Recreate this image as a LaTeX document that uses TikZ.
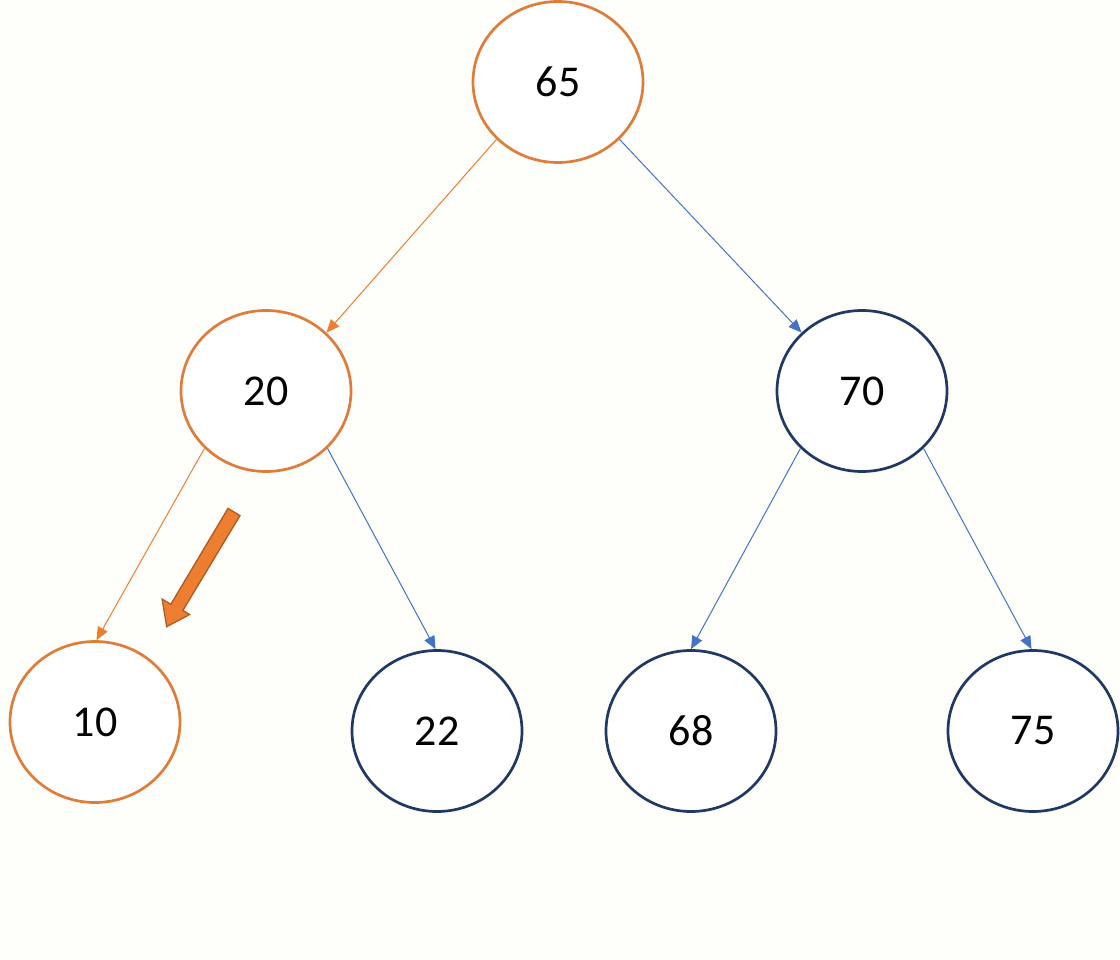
\documentclass[tikz,border=0pt]{standalone}
\usepackage{fontspec}
\setmainfont{Carlito}
\usetikzlibrary{shapes.geometric,arrows.meta}
\definecolor{bgc}{RGB}{254,254,251}
\definecolor{orn}{RGB}{224,124,58}
\definecolor{ornedge}{RGB}{237,125,49}
\definecolor{navy}{RGB}{32,56,100}
\definecolor{blueedge}{RGB}{68,114,196}
\definecolor{arrowborder}{RGB}{174,90,33}
\tikzset{
  treenode/.style={ellipse, minimum width=170pt, minimum height=161pt, inner sep=0pt, line width=2.7pt, fill=white, font=\fontsize{44}{50}\selectfont},
  orangenode/.style={treenode, draw=orn},
  bluenode/.style={treenode, draw=navy},
  orangeedge/.style={draw=ornedge, line width=1pt, -{Triangle[length=13pt,width=11pt]}},
  blueedge/.style={draw=blueedge, line width=1pt, -{Triangle[length=13pt,width=11pt]}},
  bigarrow/.style={fill=ornedge, draw=arrowborder, line width=1.3pt, line join=miter}
}
\begin{document}
\begin{tikzpicture}[x=1pt,y=-1pt]
\fill[bgc] (0,0) rectangle (1120,960);
\useasboundingbox (0,0) rectangle (1120,960);
\node[orangenode] (n65) at (558,82) {65};
\node[orangenode] (n20) at (266,391) {20};
\node[bluenode] (n70) at (862,391) {70};
\node[orangenode] (n10) at (95,722) {10};
\node[bluenode] (n22) at (437,731) {22};
\node[bluenode] (n68) at (691,731) {68};
\node[bluenode] (n75) at (1033,731) {75};
\draw[orangeedge] (n65.223) -- (n20.44);
\draw[blueedge] (n65.317) -- (n70.136);
\draw[orangeedge] (n20.223) -- (n10.89);
\draw[blueedge] (n20.317) -- (n22.91);
\draw[blueedge] (n70.223) -- (n68.90);
\draw[blueedge] (n70.317) -- (n75.91);
\draw[bigarrow] (240,515.6) -- (228,508.4) -- (170.8,604.3) -- (162.1,599.1) -- (166.7,626.7) -- (189.6,614.5) -- (182.9,610.4) -- cycle;
\end{tikzpicture}
\end{document}
